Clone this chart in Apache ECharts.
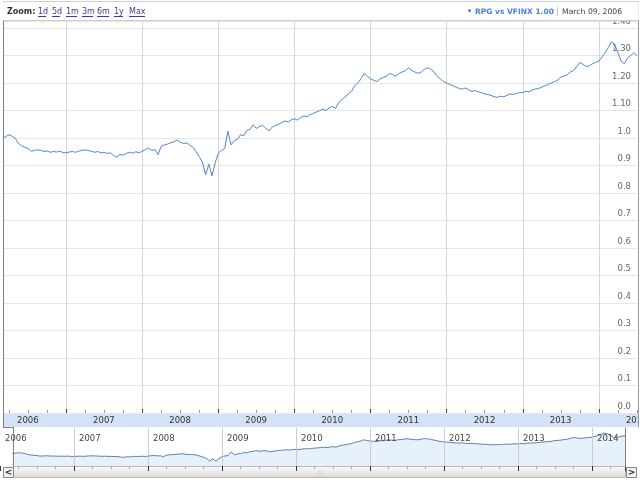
<!DOCTYPE html>
<html>
<head>
<meta charset="utf-8">
<script src="https://cdn.jsdelivr.net/npm/echarts@6/dist/echarts.min.js"></script>
<style>
  html, body { margin: 0; padding: 0; background: #ffffff; }
  #chart { width: 640px; height: 481px; }
</style>
</head>
<body>
<div id="chart"></div>
<script>
const years = [2006, 2007, 2008, 2009, 2010, 2011, 2012, 2013, 2014];
const firstSlot = 4; // 2006 starts in early March
const ratio2006 = [1.000, 1.005, 1.012, 1.006, 0.998, 0.980, 0.972, 0.966, 0.962, 0.952,
  0.955, 0.957, 0.955, 0.951, 0.953, 0.948, 0.951, 0.949, 0.952, 0.947];
const ratio2007 = [0.946, 0.949, 0.951, 0.948, 0.952, 0.955, 0.957, 0.954, 0.952, 0.948, 0.951, 0.946,
  0.948, 0.944, 0.946, 0.936, 0.930, 0.940, 0.938, 0.944, 0.948, 0.945, 0.950, 0.946];
const ratio2008 = [0.952, 0.958, 0.964, 0.955, 0.958, 0.940, 0.970, 0.975, 0.978, 0.983, 0.986, 0.993,
  0.985, 0.980, 0.982, 0.975, 0.966, 0.950, 0.932, 0.912, 0.866, 0.905, 0.862, 0.910];
const ratio2009 = [0.945, 0.955, 0.962, 1.025, 0.975, 0.990, 0.995, 1.012, 1.008, 1.028, 1.032, 1.048,
  1.035, 1.042, 1.046, 1.035, 1.026, 1.040, 1.046, 1.050, 1.056, 1.062, 1.058, 1.066];
const ratio2010 = [1.070, 1.065, 1.075, 1.080, 1.078, 1.085, 1.090, 1.095, 1.100, 1.105, 1.100, 1.110,
  1.115, 1.108, 1.130, 1.140, 1.150, 1.160, 1.170, 1.190, 1.200, 1.215, 1.235, 1.225];
const ratio2011 = [1.215, 1.210, 1.205, 1.215, 1.220, 1.225, 1.235, 1.230, 1.225, 1.235, 1.240, 1.245,
  1.255, 1.245, 1.240, 1.235, 1.240, 1.250, 1.255, 1.250, 1.240, 1.225, 1.215, 1.205];
const ratio2012 = [1.200, 1.195, 1.190, 1.185, 1.180, 1.178, 1.182, 1.175, 1.170, 1.172, 1.168, 1.165,
  1.160, 1.158, 1.155, 1.150, 1.148, 1.152, 1.150, 1.155, 1.160, 1.158, 1.162, 1.165];
const ratio2013 = [1.165, 1.170, 1.168, 1.175, 1.178, 1.180, 1.185, 1.190, 1.195, 1.200, 1.205, 1.210,
  1.222, 1.225, 1.230, 1.240, 1.245, 1.260, 1.275, 1.268, 1.260, 1.262, 1.270, 1.275];
const ratio2014 = [1.280, 1.295, 1.310, 1.330, 1.350, 1.340, 1.310, 1.280, 1.270, 1.290, 1.300, 1.310, 1.300];

const zoomLinks = [['1d', 38, 46], ['5d', 52, 60], ['1m', 66, 77], ['3m', 82, 93], ['6m', 97, 109], ['1y', 114, 123], ['Max', 129, 145]];
const legendText = 'RPG vs VFINX 1.00';
const dateText = 'March 09, 2006';

const FONT = '"DejaVu Sans", Verdana, sans-serif';

// build [decimal year, ratio] pairs
const ratioByYear = [ratio2006, ratio2007, ratio2008, ratio2009, ratio2010, ratio2011, ratio2012, ratio2013, ratio2014];
const points = [];
years.forEach((yr, k) => {
  const start = k === 0 ? firstSlot : 0;
  ratioByYear[k].forEach((v, i) => points.push([yr + (start + i) / 24, v]));
});

const myChart = echarts.init(document.getElementById('chart'), null, {renderer: 'canvas'});

// header, frame and scrollbar chrome
const graphics = [
  {type: 'rect', z: -1, shape: {x: 3, y: 414, width: 635, height: 13}, style: {fill: '#d3e2f6'}},
  {type: 'rect', z: 50, shape: {x: 0, y: 0, width: 640, height: 20.5}, style: {fill: '#ffffff'}},
  {type: 'rect', z: 60, shape: {x: 1.5, y: 1.5, width: 637, height: 19}, style: {fill: null, stroke: '#d0d0d0', lineWidth: 1}},
  {type: 'line', z: 60, shape: {x1: 3, y1: 20.5, x2: 638, y2: 20.5}, style: {stroke: '#cccccc', lineWidth: 1}},
  {type: 'line', z: 60, shape: {x1: 3.5, y1: 20.5, x2: 3.5, y2: 427.5}, style: {stroke: '#808080', lineWidth: 1}},
  {type: 'line', z: 60, shape: {x1: 3, y1: 427.5, x2: 14, y2: 427.5}, style: {stroke: '#808080', lineWidth: 1}},
  {type: 'line', z: 60, shape: {x1: 13.5, y1: 427.5, x2: 13.5, y2: 467}, style: {stroke: '#808080', lineWidth: 1}},
  {type: 'rect', z: 60, shape: {x: 638.5, y: 0, width: 2, height: 481}, style: {fill: '#ffffff'}},
  {type: 'rect', z: 60, shape: {x: 0, y: 0, width: 3, height: 466}, style: {fill: '#ffffff'}},
  {type: 'line', z: 61, shape: {x1: 638.5, y1: 20.5, x2: 638.5, y2: 427.5}, style: {stroke: '#999999', lineWidth: 1}},
  {type: 'rect', z: 5, shape: {x: 626, y: 428, width: 12, height: 38}, style: {fill: '#ffffff'}},
  {type: 'line', z: 60, shape: {x1: 625.5, y1: 427.5, x2: 625.5, y2: 467}, style: {stroke: '#808080', lineWidth: 1}},
  // scrollbar track and buttons
  {type: 'rect', z: -1, shape: {x: 13.5, y: 466.5, width: 612, height: 11}, style: {
    fill: new echarts.graphic.LinearGradient(0, 0, 0, 1, [{offset: 0, color: '#fbfbfb'}, {offset: 1, color: '#d9d9d9'}]),
    stroke: '#b8b8b8', lineWidth: 1}},
  {type: 'text', z: 60, x: 320, y: 472, style: {text: '::', fill: '#a0a0a0', font: '7px ' + FONT, align: 'center', verticalAlign: 'middle', textAlign: 'center', textVerticalAlign: 'middle'}},
  {type: 'rect', z: 60, shape: {x: 3.5, y: 467.5, width: 10, height: 10}, style: {fill: '#f2f2f2', stroke: '#888888', lineWidth: 1}},
  {type: 'rect', z: 60, shape: {x: 626.5, y: 467.5, width: 10, height: 10}, style: {fill: '#f2f2f2', stroke: '#888888', lineWidth: 1}},
  {type: 'text', z: 61, x: 8.5, y: 472.5, style: {text: '<', fill: '#222', font: 'bold 9px ' + FONT, align: 'center', verticalAlign: 'middle', textAlign: 'center', textVerticalAlign: 'middle'}},
  {type: 'text', z: 61, x: 631.5, y: 472.5, style: {text: '>', fill: '#222', font: 'bold 9px ' + FONT, align: 'center', verticalAlign: 'middle', textAlign: 'center', textVerticalAlign: 'middle'}},
  // header texts
  {type: 'text', z: 61, x: 7, y: 12, style: {text: 'Zoom:', fill: '#333333', font: 'bold 8px ' + FONT, verticalAlign: 'middle', textVerticalAlign: 'middle'}},
  {type: 'text', z: 61, x: 467, y: 12, style: {text: '\u2022', fill: '#4a80d6', font: 'bold 8px ' + FONT, verticalAlign: 'middle', textVerticalAlign: 'middle'}},
  {type: 'text', z: 61, x: 475, y: 12, style: {text: legendText, fill: '#4a80d6', font: 'bold 7.5px ' + FONT, verticalAlign: 'middle', textVerticalAlign: 'middle'}},
  {type: 'text', z: 61, x: 556, y: 12, style: {text: '|', fill: '#aaaaaa', font: '8px ' + FONT, verticalAlign: 'middle', textVerticalAlign: 'middle'}},
  {type: 'text', z: 61, x: 562, y: 12, style: {text: dateText, fill: '#444444', font: '7.7px ' + FONT, verticalAlign: 'middle', textVerticalAlign: 'middle'}}
];
zoomLinks.forEach(([label, x0, x1]) => {
  graphics.push({type: 'text', z: 61, x: x0, y: 12, style: {text: label, fill: '#3b3ba6', font: '8px ' + FONT, verticalAlign: 'middle', textVerticalAlign: 'middle'}});
  graphics.push({type: 'line', z: 61, shape: {x1: x0, y1: 16.5, x2: x1, y2: 16.5}, style: {stroke: '#3b3ba6', lineWidth: 1}});
});

const option = {
  animation: false,
  backgroundColor: '#ffffff',
  grid: [
    {left: -10, right: -35, top: 21, bottom: 68, outerBoundsMode: 'none', containLabel: false},
    {left: 0, right: 15, top: 428, bottom: 15, outerBoundsMode: 'none', containLabel: false}
  ],
  xAxis: [{
    type: 'value', gridIndex: 0, min: 2006, max: 2015, interval: 1,
    axisLine: {show: false},
    axisTick: {show: true, inside: true, length: 4, lineStyle: {color: '#444444'}},
    minorTick: {show: true, splitNumber: 4, length: 3, lineStyle: {color: '#999999'}},
    splitLine: {show: true, lineStyle: {color: '#d6d6d6', width: 1}},
    axisLabel: {
      show: true, margin: 3, align: 'left', padding: [0, 0, 0, 27],
      color: '#333333', fontSize: 8.5, fontFamily: FONT, showMaxLabel: false,
      formatter: v => String(Math.round(v))
    }
  }, {
    type: 'value', gridIndex: 1, position: 'bottom', min: 2006, max: 2006 + 625 / 74, interval: 1,
    axisLine: {show: false},
    axisTick: {show: true, length: 5, lineStyle: {color: '#333333'}},
    minorTick: {show: true, splitNumber: 4, length: 3, lineStyle: {color: '#aaaaaa'}},
    splitLine: {show: false},
    axisLabel: {show: false}
  }, {
    type: 'value', gridIndex: 1, position: 'top', z: 10, min: 2006, max: 2006 + 625 / 74, interval: 1,
    axisLine: {show: false},
    axisTick: {show: false},
    splitLine: {show: true, lineStyle: {color: '#cccccc', width: 1}},
    axisLabel: {
      show: true, inside: true, margin: 6, align: 'left', padding: [0, 0, 0, 5],
      color: '#444444', fontSize: 8.5, fontFamily: FONT, showMaxLabel: false,
      formatter: v => String(Math.round(v))
    }
  }],
  yAxis: [{
    type: 'value', gridIndex: 0, position: 'right', offset: -38,
    min: 0, max: 1.4255, interval: 0.1,
    axisLine: {show: false},
    axisTick: {show: false},
    splitLine: {show: true, lineStyle: {color: '#e6e6e6', width: 1}},
    axisLabel: {
      show: true, inside: true, margin: 6, verticalAlign: 'bottom', padding: [0, 0, 2, 0],
      color: '#666666', fontSize: 8.5, fontFamily: FONT, showMaxLabel: false,
      formatter: v => (v > 1.05 ? v.toFixed(2) : v.toFixed(1))
    }
  }, {
    type: 'value', gridIndex: 1, min: 0.78, max: 1.44, show: false,
    splitLine: {show: false}
  }],
  series: [{
    name: 'RPG vs VFINX',
    type: 'line',
    xAxisIndex: 0, yAxisIndex: 0,
    data: points,
    showSymbol: false,
    lineStyle: {color: '#4f86d4', width: 1},
    itemStyle: {color: '#4f86d4'}
  }, {
    name: 'overview',
    type: 'line',
    xAxisIndex: 1, yAxisIndex: 1,
    data: points,
    showSymbol: false,
    lineStyle: {color: '#5a82ad', width: 1},
    areaStyle: {color: '#dcebfa', opacity: 0.7, origin: 'start'}
  }],
  graphic: {elements: graphics}
};
myChart.setOption(option);
</script>
</body>
</html>
